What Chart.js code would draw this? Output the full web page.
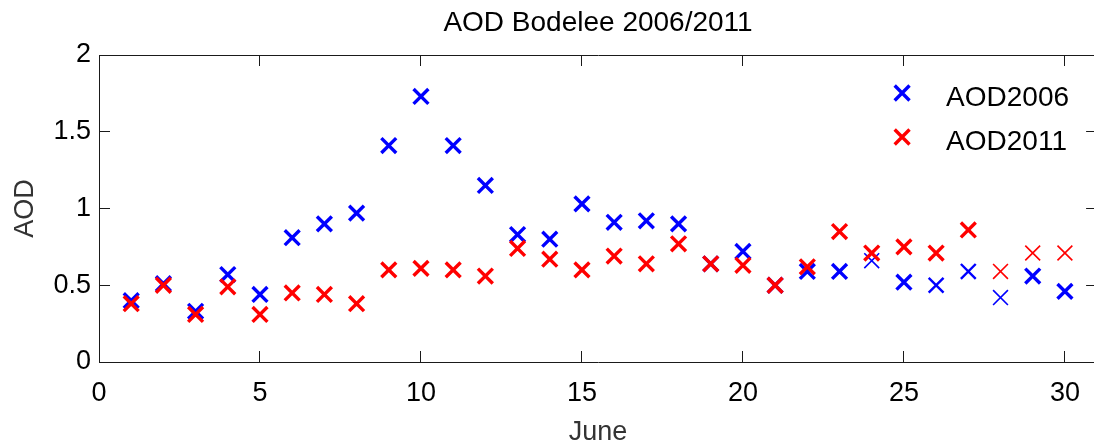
<!DOCTYPE html>
<html>
<head>
<meta charset="utf-8">
<script src="https://cdn.jsdelivr.net/npm/chart.js@4.4.1/dist/chart.umd.min.js"></script>
<style>
  html, body { margin: 0; padding: 0; overflow: hidden; background: #fff; }
  /* the right-hand frame sits just past the visible edge */
  #clip { width: 1094px; height: 446px; overflow: hidden; position: relative; }
  #wrap { width: 1111px; height: 446px; position: absolute; left: 0; top: 0; }
  #c { display: block; width: 1111px; height: 446px; }
</style>
</head>
<body>
<div id="clip"><div id="wrap"><canvas id="c" width="1111" height="446"></canvas></div></div>
<script>
// Daily aerosol optical depth over the Bodélé depression, June 2006 vs June 2011
const days = [1, 2, 3, 4, 5, 6, 7, 8, 9, 10, 11, 12, 13, 14, 15,
              16, 17, 18, 19, 20, 21, 22, 23, 24, 25, 26, 27, 28, 29, 30];
const aod2006 = [0.40, 0.51, 0.33, 0.57, 0.44, 0.81, 0.90, 0.97, 1.41, 1.73,
                 1.41, 1.15, 0.83, 0.80, 1.03, 0.91, 0.92, 0.90, 0.64, 0.72,
                 0.50, 0.59, 0.59, 0.66, 0.52, 0.50, 0.59, 0.42, 0.56, 0.46];
const aod2011 = [0.38, 0.50, 0.31, 0.49, 0.31, 0.45, 0.44, 0.38, 0.60, 0.61,
                 0.60, 0.56, 0.74, 0.67, 0.60, 0.69, 0.64, 0.77, 0.64, 0.63,
                 0.50, 0.62, 0.85, 0.71, 0.75, 0.71, 0.86, 0.59, 0.71, 0.71];
const seriesNames = ['AOD2006', 'AOD2011'];
const chartTitle = 'AOD Bodelee 2006/2011';
const xLabel = 'June';
const yLabel = 'AOD';

// a few markers are drawn with a lighter stroke
const lightStroke2006 = { 24: 1.6, 26: 2.4, 27: 2.4, 28: 1.6 };
const lightStroke2011 = { 28: 1.6, 29: 1.6, 30: 1.6 };

const FONT = '"Liberation Sans", Arial, Helvetica, sans-serif';
const AXIS = '#1a1a1a';
const MARK_R = 10.5;
const MARK_W = 3.4;

const toPoints = (vals) => days.map((d, i) => ({ x: d, y: vals[i] }));

// legend drawn inside the plot, top-right
const insideLegend = {
  id: 'insideLegend',
  afterDatasetsDraw(chart) {
    const { ctx, chartArea } = chart;
    chart.data.datasets.forEach((ds, i) => {
      const x = chartArea.right - 195;
      const y = chartArea.top + 38 + i * 44;
      ctx.save();
      ctx.strokeStyle = ds.borderColor;
      ctx.lineWidth = MARK_W;
      Chart.helpers.drawPoint(ctx, { pointStyle: 'crossRot', radius: MARK_R, borderWidth: MARK_W, rotation: 0 }, x, y);
      ctx.fillStyle = '#000';
      ctx.font = '28px ' + FONT;
      ctx.textAlign = 'left';
      ctx.textBaseline = 'middle';
      ctx.fillText(ds.label, x + 44, y + 5);
      ctx.restore();
    });
  }
};

const mirrorAxis = (pos) => ({
  type: 'linear',
  position: pos,
  ticks: { display: false, stepSize: pos === 'top' ? 5 : 0.5, includeBounds: false },
  grid: { drawOnChartArea: false, tickLength: -11, color: AXIS, lineWidth: 1 },
  border: { display: true, color: AXIS, width: 1 }
});

const plainNumber = (v) => String(Number(v.toFixed(2)));

new Chart(document.getElementById('c'), {
  type: 'scatter',
  data: {
    datasets: [
      {
        label: seriesNames[0],
        data: toPoints(aod2006),
        borderColor: '#0000ff',
        backgroundColor: '#0000ff',
        pointStyle: 'crossRot',
        pointRadius: MARK_R,
        pointBorderWidth: (c) => lightStroke2006[c.raw ? c.raw.x : 0] || MARK_W,
        order: 1
      },
      {
        label: seriesNames[1],
        data: toPoints(aod2011),
        borderColor: '#ff0000',
        backgroundColor: '#ff0000',
        pointStyle: 'crossRot',
        pointRadius: MARK_R,
        pointBorderWidth: (c) => lightStroke2011[c.raw ? c.raw.x : 0] || MARK_W,
        order: 0
      }
    ]
  },
  options: {
    responsive: false,
    maintainAspectRatio: false,
    devicePixelRatio: 1,
    animation: false,
    events: [],
    layout: { padding: 0 },
    plugins: {
      legend: { display: false },
      tooltip: { enabled: false },
      title: {
        display: true,
        text: chartTitle,
        fullSize: false,
        color: '#000',
        font: { family: FONT, size: 28, weight: 'normal' },
        padding: { top: 6, bottom: 15.4 }
      }
    },
    scales: {
      x: {
        type: 'linear',
        position: 'bottom',
        min: 0, max: 31,
        ticks: { stepSize: 5, includeBounds: false, color: '#000', padding: 26,
                 font: { family: FONT, size: 27 }, maxRotation: 0, callback: plainNumber },
        grid: { drawOnChartArea: false, tickLength: -11, color: AXIS, lineWidth: 1 },
        border: { display: true, color: AXIS, width: 1 },
        title: { display: true, text: xLabel, color: '#333',
                 font: { family: FONT, size: 27 }, padding: { top: 0, bottom: -3 } },
        afterFit: (s) => { s.height = 84; s.paddingLeft = 0; s.paddingRight = 0; }
      },
      x2: Object.assign(mirrorAxis('top'), { min: 0, max: 31,
        afterFit: (s) => { s.height = 0; s.paddingLeft = 0; s.paddingRight = 0; } }),
      y: {
        type: 'linear',
        position: 'left',
        min: 0, max: 2,
        ticks: { stepSize: 0.5, color: '#000', padding: 19, font: { family: FONT, size: 27 },
                 callback: plainNumber },
        grid: { drawOnChartArea: false, tickLength: -11, color: AXIS, lineWidth: 1 },
        border: { display: true, color: AXIS, width: 1 },
        title: { display: true, text: yLabel, color: '#333',
                 font: { family: FONT, size: 27 }, padding: { top: 9, bottom: 0 } },
        afterFit: (s) => { s.width = 99; s.paddingTop = 0; s.paddingBottom = 0; }
      },
      y2: Object.assign(mirrorAxis('right'), { min: 0, max: 2,
        afterFit: (s) => { s.width = 2; s.paddingTop = 0; s.paddingBottom = 0; } })
    }
  },
  plugins: [insideLegend]
});
</script>
</body>
</html>
